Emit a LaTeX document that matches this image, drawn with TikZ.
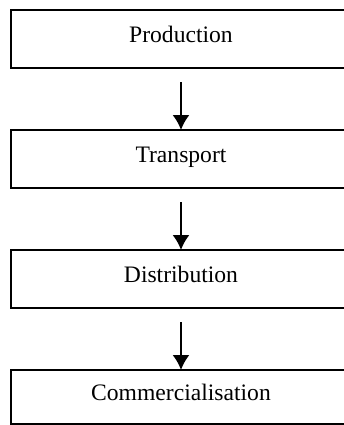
\documentclass[tikz,border=0pt]{standalone}
\usepackage{fontspec}
\setmainfont{Liberation Serif}
\usetikzlibrary{arrows.meta,positioning}

\begin{document}
\begin{tikzpicture}[
    node distance=31pt,
    block/.style={draw, line width=0.95pt, minimum width=170pt, minimum height=29pt, inner sep=0pt, outer sep=0pt,
        text height=8pt, text depth=5pt, font=\fontsize{11.8}{14}\selectfont},
    arrow/.style={-{Latex[length=7.5pt, width=8.5pt]}, line width=0.95pt, shorten <=7pt}
]
\useasboundingbox (0,0) rectangle (172pt,-212.5pt);
\node[block, anchor=north west] (prod) at (5.5pt,-5pt) {Production};
\node[block, below=of prod] (trans) {Transport};
\node[block, below=of trans] (distr) {Distribution};
\node[block, below=of distr, minimum height=27pt] (comm) {Commercialisation};
\draw[arrow] (prod) -- (trans);
\draw[arrow] (trans) -- (distr);
\draw[arrow] (distr) -- (comm);
\end{tikzpicture}
\end{document}
